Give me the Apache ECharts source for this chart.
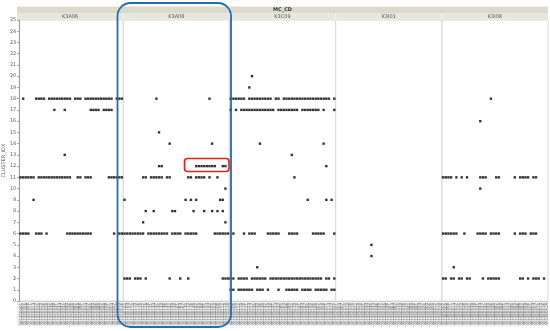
<!DOCTYPE html>
<html><head><meta charset="utf-8">
<script src="https://cdn.jsdelivr.net/npm/echarts@6/dist/echarts.min.js"></script>
<style>html,body{margin:0;padding:0;background:#fff}#c{width:550px;height:331px}</style>
</head><body><div id="c"></div>
<script>
// ---- data ----
const panels = ["K3A06", "K3A08", "K3C09", "K3I01", "K3I08"];
const groupTitle = "MC_CD";
const yTitle = "CLUSTER_IDX";

const catsA06 = "W1320401 W1320402 W1320405 W1320408 W1320411 W1320414 W1320417 W1320420 W1320423 W1320426 W1320429 W1320432 W1320435 W1320438 W1320441 W1320444 W1320447 W1320450 W1320453 W1320456 W1320459 W1320462 W1320465 W1320468 W1320471 W1320474 W1320477 W1320480 W1320483 W1320486 W1320489 W1320492 W1320495 W1320498 W1320501 W1320504 W1320507 W1320510 W1320513 W1320516".split(" ");
const catsA08 = "W1330102 W1330104 W1330107 W1330110 W1330113 W1330116 W1330119 W1330122 W1330125 W1330128 W1330131 W1330134 W1330137 W1330140 W1330143 W1330146 W1330149 W1330152 W1330155 W1330158 W1330161 W1330164 W1330167 W1330170 W1330173 W1330176 W1330179 W1330182 W1330185 W1330188 W1330191 W1330194 W1330197 W1330200 W1330203 W1330206 W1330209 W1330212 W1330215 W1330218".split(" ");
const catsC09 = "W1340203 W1340206 W1340209 W1340212 W1340215 W1340218 W1340221 W1340224 W1340227 W1340230 W1340233 W1340236 W1340239 W1340242 W1340245 W1340248 W1340251 W1340254 W1340257 W1340260 W1340263 W1340266 W1340269 W1340272 W1340275 W1340278 W1340281 W1340284 W1340287 W1340290 W1340293 W1340296 W1340299 W1340302 W1340305 W1340308 W1340311 W1340314 W1340317 W1340320".split(" ");
const catsI01 = "W1350301 W1350304 W1350307 W1350310 W1350313 W1350316 W1350319 W1350322 W1350325 W1350328 W1350331 W1350334 W1350337 W1350340 W1350343 W1350346 W1350349 W1350352 W1350355 W1350358 W1350361 W1350364 W1350367 W1350370 W1350373 W1350376 W1350379 W1350382 W1350385 W1350388 W1350391 W1350394 W1350397 W1350400 W1350403 W1350406 W1350409 W1350412 W1350415 W1350418".split(" ");
const catsI08 = "W1360402 W1360405 W1360408 W1360411 W1360414 W1360417 W1360420 W1360423 W1360426 W1360429 W1360432 W1360435 W1360438 W1360441 W1360444 W1360447 W1360450 W1360453 W1360456 W1360459 W1360462 W1360465 W1360468 W1360471 W1360474 W1360477 W1360480 W1360483 W1360486 W1360489 W1360492 W1360495 W1360498 W1360501 W1360504 W1360507 W1360510 W1360513 W1360516 W1360519".split(" ");

// rows: [cluster value, [category indices]]
const rowsA06 = [
  [18, [1,6,7,8,9,11,12,13,14,15,16,17,18,19,21,22,23,25,26,27,28,29,30,31,32,33,34,35,37,38,39]],
  [17, [13,17,27,28,29,30,32,33,34,35]],
  [13, [17]],
  [11, [0,1,2,3,4,5,7,8,9,10,11,12,13,14,15,16,17,18,19,22,23,25,26,27,34,35,36,37,38,39]],
  [9, [5]],
  [6, [0,1,2,3,6,7,8,10,18,19,20,21,22,23,24,25,26,27,36,38,39]]
];
const rowsA08 = [
  [18, [12,32]],
  [15, [13]],
  [14, [17,33]],
  [12, [13,14,27,28,29,30,31,32,33,34,37,38]],
  [11, [7,8,10,11,12,13,14,16,17,24,25,27,28,29,30,32,35]],
  [10, [38]],
  [9, [0,23,25,27,36,37]],
  [8, [8,11,18,19,26,30,33,35,37]],
  [7, [7,38]],
  [6, [0,1,2,3,4,5,6,7,9,10,11,12,13,14,15,16,18,19,20,21,23,24,25,26,27,34,35,36,37,38,39]],
  [2, [0,1,2,4,5,6,8,17,21,24,37,38,39]]
];
const rowsC09 = [
  [20, [8]],
  [19, [7]],
  [18, [0,1,2,3,4,5,7,8,9,10,11,12,13,14,15,17,18,20,21,22,23,24,25,26,27,28,29,30,31,32,33,34,35,36,37,39]],
  [17, [0,2,4,5,6,7,8,9,10,11,12,13,14,15,16,18,19,20,21,22,23,24,25,27,28,29,30,31,32,33,35,39]],
  [14, [11,35]],
  [13, [23]],
  [12, [36]],
  [11, [24]],
  [9, [29,36,38]],
  [6, [1,5,7,8,9,14,15,16,17,18,22,23,24,25,31,32,33,34,35,39]],
  [3, [10]],
  [2, [0,1,3,4,5,6,8,9,10,11,12,13,15,16,17,18,19,20,21,22,23,24,25,26,27,28,29,30,31,32,33,34,36,37,39]],
  [1, [0,1,3,4,5,6,7,8,10,11,12,14,18,21,22,23,24,25,27,28,29,30,32,33,34,35,36,38,39]]
];
const rowsI01 = [
  [5, [13]],
  [4, [13]]
];
const rowsI08 = [
  [18, [18]],
  [16, [14]],
  [11, [0,1,2,3,5,7,9,14,15,16,20,21,27,29,30,31,32,34,35]],
  [10, [14]],
  [6, [0,1,2,3,4,5,8,13,14,15,16,18,19,20,21,27,29,30,31,33,34,35]],
  [3, [4]],
  [2, [0,1,3,4,6,7,9,10,15,17,18,19,20,21,29,30,32,34,35,36,38]]
];
const yTicks = {min: 0, max: 25, step: 1};

// ---- build ----
const cats = [catsA06, catsA08, catsC09, catsI01, catsI08];
const rows = [rowsA06, rowsA08, rowsC09, rowsI01, rowsI08];
const L = 17, R = 548, TOP = 20, BOT = 301;
const PW = (R - L) / panels.length;

const grids = [], xAxes = [], yAxes = [], series = [];
panels.forEach((p, k) => {
  grids.push({left: L + k * PW, width: PW, top: TOP, height: BOT - TOP,
    show: true, borderColor: '#dadada', borderWidth: 1, backgroundColor: 'transparent'});
  xAxes.push({type: 'category', gridIndex: k, data: cats[k], boundaryGap: true,
    axisLine: {show: true, lineStyle: {color: '#cfcfcf'}}, axisTick: {show: false},
    axisLabel: {interval: 0, rotate: 90, fontSize: 4, color: '#6f6f6f', margin: 2, fontFamily: 'DejaVu Sans'},
    splitLine: {show: false}});
  yAxes.push({type: 'value', gridIndex: k, min: yTicks.min, max: yTicks.max, interval: yTicks.step,
    name: k === 0 ? yTitle : '', nameLocation: 'middle', nameRotate: 90, nameGap: 12,
    nameTextStyle: {fontSize: 5, color: '#555', fontFamily: 'DejaVu Sans'},
    axisLine: {show: k === 0, lineStyle: {color: '#9a9a9a'}},
    axisTick: {show: k === 0, length: 2, lineStyle: {color: '#9a9a9a'}},
    axisLabel: {show: k === 0, fontSize: 5, color: '#666', margin: 3, fontFamily: 'DejaVu Sans'},
    splitLine: {show: false}});
  const data = [];
  rows[k].forEach(([v, idxs]) => idxs.forEach(i => data.push([cats[k][i], v])));
  series.push({type: 'scatter', xAxisIndex: k, yAxisIndex: k, data: data,
    symbol: 'rect', symbolSize: 2.4, itemStyle: {color: '#000'}, silent: true, animation: false});
});

const graphics = [
  {type: 'rect', z: -1, shape: {x: L, y: BOT, width: R - L, height: 25}, style: {fill: '#ececec'}},
  {type: 'rect', shape: {x: L, y: 6.5, width: R - L, height: 6.5}, style: {fill: '#dcdacb'}},
  {type: 'rect', shape: {x: L, y: 13, width: R - L, height: 7}, style: {fill: '#e8e7de'}},
  {type: 'text', style: {text: groupTitle, x: (L + R) / 2, y: 9.8, align: 'center', verticalAlign: 'middle',
    font: 'bold 5px DejaVu Sans', fill: '#333'}}
];
panels.forEach((p, k) => {
  graphics.push({type: 'text', style: {text: p, x: L + (k + 0.5) * PW, y: 16.5, align: 'center',
    verticalAlign: 'middle', font: '5px DejaVu Sans', fill: '#555'}});
  if (k > 0) graphics.push({type: 'line', shape: {x1: L + k * PW, y1: 13, x2: L + k * PW, y2: 20},
    style: {stroke: '#f4f4f0', lineWidth: 1}});
});
// annotations
graphics.push({type: 'rect', z: 100, shape: {x: 117.5, y: 3, width: 113.5, height: 324, r: 13},
  style: {fill: 'none', stroke: '#1f6db3', lineWidth: 1.8}});
graphics.push({type: 'rect', z: 100, shape: {x: 184.5, y: 158.5, width: 44.5, height: 13, r: 3},
  style: {fill: 'none', stroke: '#e0201b', lineWidth: 1.6}});

const chart = echarts.init(document.getElementById('c'), null, {renderer: 'canvas'});
chart.setOption({animation: false, backgroundColor: '#fff', grid: grids, xAxis: xAxes, yAxis: yAxes,
  series: series, graphic: graphics});
</script></body></html>
